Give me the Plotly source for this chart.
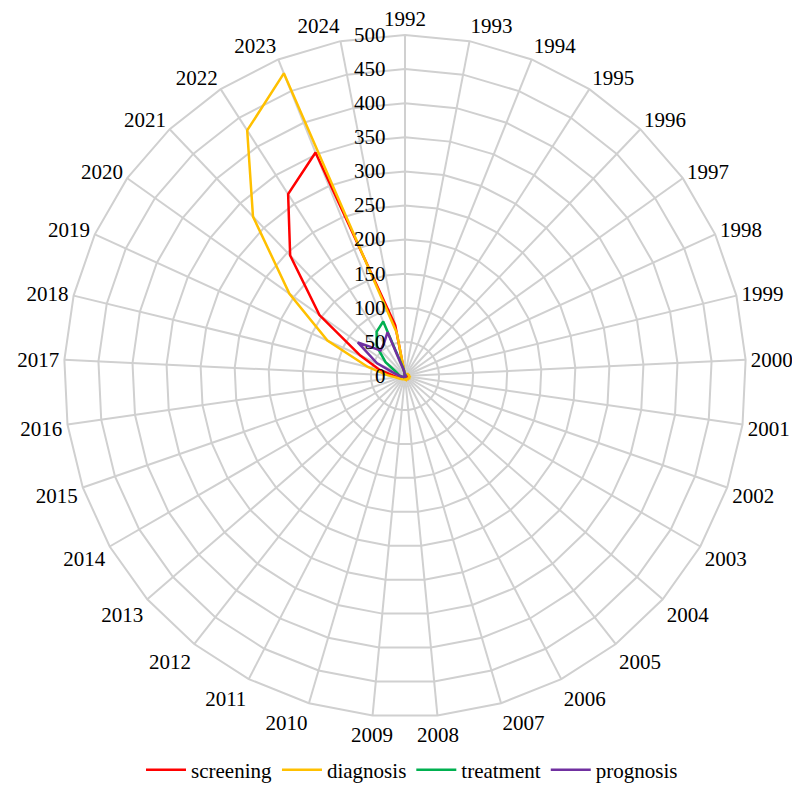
import plotly.graph_objects as go

years = [str(y) for y in range(1992, 2025)]

screening = [0, 1, 1, 1, 2, 2, 3, 3, 4, 4, 4, 5, 4, 5, 4, 5, 4, 4, 4, 4, 5, 5, 6, 8,
             12, 18, 38, 72, 154, 244, 317, 353, 76]
diagnosis = [2, 2, 3, 3, 4, 5, 5, 6, 6, 7, 6, 7, 6, 6, 5, 6, 5, 5, 5, 5, 6, 7, 8, 10,
             14, 26, 56, 125, 208, 323, 428, 478, 65]
treatment = [0, 0, 0, 0, 0, 1, 1, 1, 1, 1, 1, 1, 1, 1, 1, 1, 1, 1, 1, 1, 1, 2, 2, 3,
             5, 8, 10, 14, 35, 60, 77, 86, 10]
prognosis = [0, 0, 0, 0, 0, 0, 1, 1, 1, 1, 1, 1, 1, 1, 1, 1, 1, 1, 1, 1, 1, 2, 2, 3,
             5, 8, 15, 45, 85, 52, 57, 69, 8]

series = [
    ("screening", screening, "#FF0000"),
    ("diagnosis", diagnosis, "#FFC000"),
    ("treatment", treatment, "#00B050"),
    ("prognosis", prognosis, "#7030A0"),
]

fig = go.Figure()
for name, vals, color in series:
    fig.add_trace(go.Scatterpolar(
        r=vals + [vals[0]],
        theta=years + [years[0]],
        mode="lines",
        name=name,
        line=dict(color=color, width=2.5),
    ))

grid = "#D0D0D0"
font_family = "Liberation Serif, Times New Roman, serif"
W, H = 800, 806
cx, cy, R = 397, 368, 341

fig.update_layout(
    width=W, height=H,
    margin=dict(l=0, r=0, t=0, b=0),
    paper_bgcolor="white",
    font=dict(family=font_family, color="black"),
    showlegend=True,
    legend=dict(orientation="h", x=0.505, xanchor="center", y=1 - 762 / H,
                yanchor="middle", itemwidth=40,
                font=dict(family=font_family, size=21, color="black")),
    polar=dict(
        domain=dict(x=[(cx - R) / W, (cx + R) / W],
                    y=[1 - (cy + R) / H, 1 - (cy - R) / H]),
        gridshape="linear",
        bgcolor="white",
        angularaxis=dict(
            type="category",
            categoryarray=years,
            direction="clockwise",
            rotation=90,
            showline=True,
            linecolor=grid,
            linewidth=2,
            gridcolor=grid,
            gridwidth=1.5,
            ticks="",
            tickfont=dict(family=font_family, size=21, color="black"),
        ),
        radialaxis=dict(
            range=[0, 500],
            dtick=50,
            tick0=0,
            angle=90,
            tickangle=90,
            side="counterclockwise",
            ticksuffix="\u00a0\u00a0\u00a0",
            showline=False,
            gridcolor=grid,
            gridwidth=1.5,
            ticks="",
            tickfont=dict(family=font_family, size=21, color="black"),
        ),
    ),
)

fig.write_html("out.html")
